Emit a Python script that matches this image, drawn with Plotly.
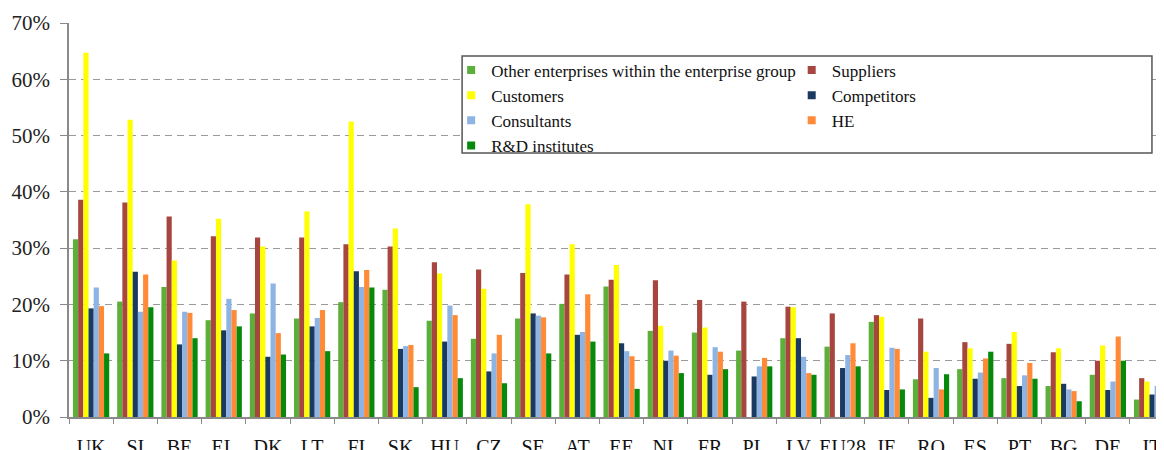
import plotly.graph_objects as go

countries = ["UK", "SI", "BE", "EL", "DK", "LT", "FI", "SK", "HU", "CZ", "SE", "AT", "EE",
             "NL", "FR", "PL", "LV", "EU28", "IE", "RO", "ES", "PT", "BG", "DE", "IT"]

other_enterprises = [31.6, 20.5, 23.1, 17.2, 18.4, 17.5, 20.4, 22.6, 17.1, 13.9, 17.5, 20.1, 23.2,
                     15.3, 15.0, 11.8, 14.0, 12.5, 16.9, 6.7, 8.5, 6.9, 5.5, 7.5, 3.1]
suppliers = [38.6, 38.1, 35.6, 32.1, 31.9, 31.9, 30.7, 30.3, 27.5, 26.2, 25.6, 25.3, 24.4,
             24.3, 20.8, 20.5, 19.6, 18.4, 18.1, 17.5, 13.3, 13.0, 11.5, 10.0, 6.9]
customers = [64.7, 52.8, 27.8, 35.2, 30.3, 36.5, 52.5, 33.5, 25.5, 22.8, 37.8, 30.7, 27.0,
             16.2, 15.9, None, 19.5, None, 17.8, 11.6, 12.2, 15.1, 12.2, 12.7, 6.3]
competitors = [19.3, 25.8, 12.9, 15.4, 10.7, 16.1, 25.9, 12.1, 13.4, 8.1, 18.4, 14.6, 13.1,
               10.0, 7.5, 7.2, 14.0, 8.7, 4.8, 3.4, 6.8, 5.5, 5.9, 4.8, 4.0]
consultants = [23.0, 18.7, 18.7, 21.0, 23.7, 17.6, 23.1, 12.6, 19.8, 11.3, 18.0, 15.1, 11.7,
               11.8, 12.4, 9.0, 10.7, 11.0, 12.3, 8.7, 7.9, 7.4, 4.9, 6.3, 5.5]
he = [19.7, 25.3, 18.5, 19.0, 14.9, 19.0, 26.1, 12.8, 18.1, 14.6, 17.7, 21.8, 10.8,
      10.9, 11.6, 10.5, 7.8, 13.1, 12.1, 4.9, 10.4, 9.6, 4.6, 14.3, 5.7]
rd_institutes = [11.3, 19.5, 14.0, 16.1, 11.1, 11.7, 23.0, 5.3, 6.9, 6.0, 11.3, 13.4, 5.0,
                 7.8, 8.5, 9.0, 7.5, 9.0, 4.9, 7.6, 11.6, 6.8, 2.8, 10.0, None]

y_tick_values = [0, 10, 20, 30, 40, 50, 60, 70]
y_tick_labels = ["0%", "10%", "20%", "30%", "40%", "50%", "60%", "70%"]

series = [
    ("Other enterprises within the enterprise group", other_enterprises, "#5cb03a", "legend"),
    ("Suppliers", suppliers, "#a6463f", "legend2"),
    ("Customers", customers, "#ffff00", "legend"),
    ("Competitors", competitors, "#1b3a62", "legend2"),
    ("Consultants", consultants, "#8db4e3", "legend"),
    ("HE", he, "#ff8a38", "legend2"),
    ("R&D institutes", rd_institutes, "#078a0c", "legend"),
]

FONT = "Liberation Serif, Times New Roman, Times, serif"

fig = go.Figure()
for name, vals, color, lg in series:
    fig.add_trace(go.Bar(
        x=countries, y=vals, name=name, showlegend=False,
        marker=dict(color=color, line=dict(width=0)),
    ))
# legend-only entries with small square swatches
for name, vals, color, lg in series:
    fig.add_trace(go.Scatter(
        x=[None], y=[None], name=name, legend=lg, mode="markers",
        marker=dict(symbol="square", size=8, color=color),
        showlegend=True,
    ))

# the page body adds an 8px offset, so the figure is 8px smaller than the window
fig.update_layout(
    width=1156, height=442,
    margin=dict(l=61, r=0, t=15, b=33, autoexpand=False),
    paper_bgcolor="white", plot_bgcolor="white",
    barmode="group", bargap=0.18, bargroupgap=0.0,
    font=dict(family=FONT, size=21, color="#222222"),
    legend=dict(
        x=0.349, y=0.925, xanchor="left", yanchor="top",
        bgcolor="rgba(0,0,0,0)", font=dict(family=FONT, size=17, color="#111111"),
        tracegroupgap=0, itemwidth=30, traceorder="normal",
    ),
    legend2=dict(
        x=0.660, y=0.925, xanchor="left", yanchor="top",
        bgcolor="rgba(0,0,0,0)", font=dict(family=FONT, size=17, color="#111111"),
        tracegroupgap=0, itemwidth=30, traceorder="normal",
    ),
    xaxis=dict(
        type="category", range=[-0.5, 24.27], automargin=False,
        showline=True, linecolor="#8a8a8a", linewidth=1.5,
        ticks="outside", tickson="boundaries", ticklen=5, tickcolor="#8a8a8a", tickwidth=1.2,
        showgrid=False, tickangle=0, tickfont=dict(family=FONT, size=20, color="#111111"),
        ticklabelstandoff=11,
    ),
    yaxis=dict(
        range=[0, 70], tickvals=y_tick_values, ticktext=y_tick_labels, automargin=False,
        showline=True, linecolor="#8a8a8a", linewidth=1.5,
        ticks="outside", ticklen=7, tickcolor="#8a8a8a", tickwidth=1.2,
        showgrid=True, gridcolor="#9a9a9a", gridwidth=1.3, griddash="7px,5px",
        zeroline=False, tickfont=dict(family=FONT, size=21, color="#222222"),
        ticklabelstandoff=6,
    ),
    shapes=[dict(
        type="rect", xref="paper", yref="paper",
        x0=0.359, x1=0.989, y0=0.670, y1=0.916,
        line=dict(color="#555555", width=1.5), fillcolor="white", layer="above",
    )],
)

fig.write_html("out.html")
